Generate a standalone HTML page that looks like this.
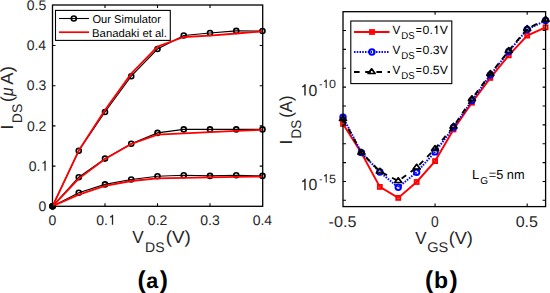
<!DOCTYPE html>
<html><head><meta charset="utf-8"><style>
html,body{margin:0;padding:0;background:#fff;width:550px;height:293px;overflow:hidden;}
svg{display:block;}
</style></head><body>
<svg width="550" height="293" viewBox="0 0 550 293" text-rendering="geometricPrecision" font-family='"Liberation Sans", sans-serif'>
<rect width="550" height="293" fill="#fff"/>
<polyline points="52.50,206.30 78.75,150.75 105.00,112.05 131.25,76.20 157.50,49.00 183.75,35.50 210.00,33.00 236.25,30.90 262.50,31.00" fill="none" stroke="#000" stroke-width="1.1"/>
<circle cx="52.50" cy="206.30" r="2.5" fill="none" stroke="#000" stroke-width="1.6"/>
<circle cx="78.75" cy="150.75" r="2.5" fill="none" stroke="#000" stroke-width="1.6"/>
<circle cx="105.00" cy="112.05" r="2.5" fill="none" stroke="#000" stroke-width="1.6"/>
<circle cx="131.25" cy="76.20" r="2.5" fill="none" stroke="#000" stroke-width="1.6"/>
<circle cx="157.50" cy="49.00" r="2.5" fill="none" stroke="#000" stroke-width="1.6"/>
<circle cx="183.75" cy="35.50" r="2.5" fill="none" stroke="#000" stroke-width="1.6"/>
<circle cx="210.00" cy="33.00" r="2.5" fill="none" stroke="#000" stroke-width="1.6"/>
<circle cx="236.25" cy="30.90" r="2.5" fill="none" stroke="#000" stroke-width="1.6"/>
<circle cx="262.50" cy="31.00" r="2.5" fill="none" stroke="#000" stroke-width="1.6"/>
<polyline points="52.50,206.30 78.75,177.20 105.00,158.60 131.25,143.70 157.50,132.90 183.75,129.40 210.00,129.40 236.25,129.40 262.50,129.40" fill="none" stroke="#000" stroke-width="1.1"/>
<circle cx="52.50" cy="206.30" r="2.5" fill="none" stroke="#000" stroke-width="1.6"/>
<circle cx="78.75" cy="177.20" r="2.5" fill="none" stroke="#000" stroke-width="1.6"/>
<circle cx="105.00" cy="158.60" r="2.5" fill="none" stroke="#000" stroke-width="1.6"/>
<circle cx="131.25" cy="143.70" r="2.5" fill="none" stroke="#000" stroke-width="1.6"/>
<circle cx="157.50" cy="132.90" r="2.5" fill="none" stroke="#000" stroke-width="1.6"/>
<circle cx="183.75" cy="129.40" r="2.5" fill="none" stroke="#000" stroke-width="1.6"/>
<circle cx="210.00" cy="129.40" r="2.5" fill="none" stroke="#000" stroke-width="1.6"/>
<circle cx="236.25" cy="129.40" r="2.5" fill="none" stroke="#000" stroke-width="1.6"/>
<circle cx="262.50" cy="129.40" r="2.5" fill="none" stroke="#000" stroke-width="1.6"/>
<polyline points="52.50,206.30 78.75,192.70 105.00,184.40 131.25,179.50 157.50,176.30 183.75,175.30 210.00,175.90 236.25,175.30 262.50,175.90" fill="none" stroke="#000" stroke-width="1.1"/>
<circle cx="52.50" cy="206.30" r="2.5" fill="none" stroke="#000" stroke-width="1.6"/>
<circle cx="78.75" cy="192.70" r="2.5" fill="none" stroke="#000" stroke-width="1.6"/>
<circle cx="105.00" cy="184.40" r="2.5" fill="none" stroke="#000" stroke-width="1.6"/>
<circle cx="131.25" cy="179.50" r="2.5" fill="none" stroke="#000" stroke-width="1.6"/>
<circle cx="157.50" cy="176.30" r="2.5" fill="none" stroke="#000" stroke-width="1.6"/>
<circle cx="183.75" cy="175.30" r="2.5" fill="none" stroke="#000" stroke-width="1.6"/>
<circle cx="210.00" cy="175.90" r="2.5" fill="none" stroke="#000" stroke-width="1.6"/>
<circle cx="236.25" cy="175.30" r="2.5" fill="none" stroke="#000" stroke-width="1.6"/>
<circle cx="262.50" cy="175.90" r="2.5" fill="none" stroke="#000" stroke-width="1.6"/>
<circle cx="52.9" cy="206.3" r="3.1" fill="#000"/>
<polyline points="52.50,206.30 78.75,150.60 105.00,110.00 131.25,73.60 157.50,46.60 183.75,37.00 210.00,35.60 236.25,33.50 262.50,31.30" fill="none" stroke="#f00" stroke-width="1.8" stroke-linejoin="round"/>
<polyline points="52.50,206.30 78.75,178.60 105.00,159.00 131.25,144.00 157.50,134.60 183.75,133.30 210.00,132.10 236.25,130.90 262.50,129.90" fill="none" stroke="#f00" stroke-width="1.8" stroke-linejoin="round"/>
<polyline points="52.50,206.30 78.75,194.60 105.00,185.90 131.25,181.00 157.50,178.30 183.75,177.80 210.00,177.30 236.25,176.90 262.50,176.60" fill="none" stroke="#f00" stroke-width="1.8" stroke-linejoin="round"/>
<rect x="52.5" y="5.0" width="210.20" height="201.30" fill="none" stroke="#000" stroke-width="1.3"/>
<path d="M105.00 206.3v-3M105.00 5.0v3" stroke="#000" stroke-width="1.1"/>
<path d="M157.50 206.3v-3M157.50 5.0v3" stroke="#000" stroke-width="1.1"/>
<path d="M210.00 206.3v-3M210.00 5.0v3" stroke="#000" stroke-width="1.1"/>
<path d="M52.5 166.10h3M262.7 166.10h-3" stroke="#000" stroke-width="1.1"/>
<path d="M52.5 125.90h3M262.7 125.90h-3" stroke="#000" stroke-width="1.1"/>
<path d="M52.5 85.70h3M262.7 85.70h-3" stroke="#000" stroke-width="1.1"/>
<path d="M52.5 45.50h3M262.7 45.50h-3" stroke="#000" stroke-width="1.1"/>
<text x="38.46" y="211.00" font-size="14" fill="#262626">0</text>
<text x="28.82" y="170.80" font-size="14" fill="#262626">0.</text><path d="M45.06,170.80L45.06,160.87M45.06,161.39C44.69,162.40 43.99,162.96 42.59,163.17" fill="none" stroke="#262626" stroke-width="1.29" stroke-linecap="butt"/>
<text x="26.94" y="130.60" font-size="14" fill="#262626">0.2</text>
<text x="26.85" y="90.40" font-size="14" fill="#262626">0.3</text>
<text x="26.65" y="50.20" font-size="14" fill="#262626">0.4</text>
<text x="26.83" y="10.00" font-size="14" fill="#262626">0.5</text>
<text x="48.61" y="224.70" font-size="14" fill="#262626">0</text>
<text x="96.28" y="224.70" font-size="14" fill="#262626">0.</text><path d="M112.52,224.70L112.52,214.77M112.52,215.29C112.16,216.30 111.46,216.86 110.06,217.07" fill="none" stroke="#262626" stroke-width="1.29" stroke-linecap="butt"/>
<text x="147.85" y="224.70" font-size="14" fill="#262626">0.2</text>
<text x="200.30" y="224.70" font-size="14" fill="#262626">0.3</text>
<text x="252.70" y="224.70" font-size="14" fill="#262626">0.4</text>
<rect x="55.5" y="10.4" width="114.8" height="30" fill="#fff" stroke="#000" stroke-width="1.1"/>
<path d="M59 18.5H89" stroke="#000" stroke-width="1.1"/>
<circle cx="73.8" cy="18.5" r="2.5" fill="none" stroke="#000" stroke-width="1.6"/>
<path d="M59 32.2H89" stroke="#f00" stroke-width="1.7"/>
<text x="92.47" y="23.10" font-size="11.3" textLength="68.41" lengthAdjust="spacingAndGlyphs" fill="#000">Our Simulator</text>
<text x="92.07" y="36.60" font-size="11.3" textLength="74.86" lengthAdjust="spacingAndGlyphs" fill="#000">Banadaki et al.</text>
<text x="132.22" y="243.20" font-size="17.5" textLength="11.45" lengthAdjust="spacingAndGlyphs" fill="#262626">V</text>
<text x="145.05" y="251.60" font-size="14" textLength="19.50" lengthAdjust="spacingAndGlyphs" fill="#262626">DS</text>
<text x="165.73" y="243.20" font-size="17.5" textLength="25.14" lengthAdjust="spacingAndGlyphs" fill="#262626">(V)</text>
<g transform="translate(0,130.0) rotate(-90)"><text x="0.59" y="12.50" font-size="17.5" fill="#262626">I</text><text x="6.86" y="22.00" font-size="14" textLength="19.39" lengthAdjust="spacingAndGlyphs" fill="#262626">DS</text><text x="28.11" y="12.50" font-size="17.5" fill="#262626">(</text><text x="34.12" y="12.50" font-size="17.5" font-style="italic" textLength="8.42" lengthAdjust="spacingAndGlyphs" fill="#262626">μ</text><text x="45.36" y="12.50" font-size="17.5" textLength="18.48" lengthAdjust="spacingAndGlyphs" fill="#262626">A)</text></g>
<text x="137.42" y="287.80" font-size="24.5" font-weight="bold" fill="#000">(</text>
<text x="146.19" y="287.80" font-size="21.5" font-weight="bold" fill="#000">a</text>
<text x="159.87" y="287.80" font-size="24.5" font-weight="bold" fill="#000">)</text>
<polyline points="343.00,123.90 361.42,153.00 379.84,186.90 398.25,197.90 416.67,182.00 435.09,161.10 453.51,129.50 471.93,102.70 490.35,77.90 508.76,55.30 527.18,35.60 545.60,27.30" fill="none" stroke="#f00" stroke-width="1.9"/>
<rect x="341.00" y="121.90" width="4.0" height="4.0" fill="none" stroke="#f00" stroke-width="1.8"/>
<rect x="359.42" y="151.00" width="4.0" height="4.0" fill="none" stroke="#f00" stroke-width="1.8"/>
<rect x="377.84" y="184.90" width="4.0" height="4.0" fill="none" stroke="#f00" stroke-width="1.8"/>
<rect x="396.25" y="195.90" width="4.0" height="4.0" fill="none" stroke="#f00" stroke-width="1.8"/>
<rect x="414.67" y="180.00" width="4.0" height="4.0" fill="none" stroke="#f00" stroke-width="1.8"/>
<rect x="433.09" y="159.10" width="4.0" height="4.0" fill="none" stroke="#f00" stroke-width="1.8"/>
<rect x="451.51" y="127.50" width="4.0" height="4.0" fill="none" stroke="#f00" stroke-width="1.8"/>
<rect x="469.93" y="100.70" width="4.0" height="4.0" fill="none" stroke="#f00" stroke-width="1.8"/>
<rect x="488.35" y="75.90" width="4.0" height="4.0" fill="none" stroke="#f00" stroke-width="1.8"/>
<rect x="506.76" y="53.30" width="4.0" height="4.0" fill="none" stroke="#f00" stroke-width="1.8"/>
<rect x="525.18" y="33.60" width="4.0" height="4.0" fill="none" stroke="#f00" stroke-width="1.8"/>
<rect x="543.60" y="25.30" width="4.0" height="4.0" fill="none" stroke="#f00" stroke-width="1.8"/>
<polyline points="343.00,117.30 361.42,152.60 379.84,172.00 398.25,187.30 416.67,172.20 435.09,151.90 453.51,127.50 471.93,100.50 490.35,75.00 508.76,51.50 527.18,29.50 545.60,20.50" fill="none" stroke="#00f" stroke-width="2" stroke-dasharray="1.5 1.25"/>
<circle cx="343.00" cy="117.30" r="2.75" fill="none" stroke="#00f" stroke-width="1.9"/>
<circle cx="361.42" cy="152.60" r="2.75" fill="none" stroke="#00f" stroke-width="1.9"/>
<circle cx="379.84" cy="172.00" r="2.75" fill="none" stroke="#00f" stroke-width="1.9"/>
<circle cx="398.25" cy="187.30" r="2.75" fill="none" stroke="#00f" stroke-width="1.9"/>
<circle cx="416.67" cy="172.20" r="2.75" fill="none" stroke="#00f" stroke-width="1.9"/>
<circle cx="435.09" cy="151.90" r="2.75" fill="none" stroke="#00f" stroke-width="1.9"/>
<circle cx="453.51" cy="127.50" r="2.75" fill="none" stroke="#00f" stroke-width="1.9"/>
<circle cx="471.93" cy="100.50" r="2.75" fill="none" stroke="#00f" stroke-width="1.9"/>
<circle cx="490.35" cy="75.00" r="2.75" fill="none" stroke="#00f" stroke-width="1.9"/>
<circle cx="508.76" cy="51.50" r="2.75" fill="none" stroke="#00f" stroke-width="1.9"/>
<circle cx="527.18" cy="29.50" r="2.75" fill="none" stroke="#00f" stroke-width="1.9"/>
<circle cx="545.60" cy="20.50" r="2.75" fill="none" stroke="#00f" stroke-width="1.9"/>
<polyline points="343.00,119.00 361.42,152.60 379.84,171.50 398.25,181.00 416.67,167.50 435.09,148.80 453.51,126.50 471.93,99.00 490.35,73.80 508.76,50.80 527.18,28.80 545.60,19.70" fill="none" stroke="#000" stroke-width="1.9" stroke-dasharray="5.6 5.6"/>
<polygon points="343.00,115.80 346.50,120.50 339.50,120.50" fill="none" stroke="#000" stroke-width="1.7" stroke-linejoin="round"/>
<polygon points="361.42,149.40 364.92,154.10 357.92,154.10" fill="none" stroke="#000" stroke-width="1.7" stroke-linejoin="round"/>
<polygon points="379.84,168.30 383.34,173.00 376.34,173.00" fill="none" stroke="#000" stroke-width="1.7" stroke-linejoin="round"/>
<polygon points="398.25,177.80 401.75,182.50 394.75,182.50" fill="none" stroke="#000" stroke-width="1.7" stroke-linejoin="round"/>
<polygon points="416.67,164.30 420.17,169.00 413.17,169.00" fill="none" stroke="#000" stroke-width="1.7" stroke-linejoin="round"/>
<polygon points="435.09,145.60 438.59,150.30 431.59,150.30" fill="none" stroke="#000" stroke-width="1.7" stroke-linejoin="round"/>
<polygon points="453.51,123.30 457.01,128.00 450.01,128.00" fill="none" stroke="#000" stroke-width="1.7" stroke-linejoin="round"/>
<polygon points="471.93,95.80 475.43,100.50 468.43,100.50" fill="none" stroke="#000" stroke-width="1.7" stroke-linejoin="round"/>
<polygon points="490.35,70.60 493.85,75.30 486.85,75.30" fill="none" stroke="#000" stroke-width="1.7" stroke-linejoin="round"/>
<polygon points="508.76,47.60 512.26,52.30 505.26,52.30" fill="none" stroke="#000" stroke-width="1.7" stroke-linejoin="round"/>
<polygon points="527.18,25.60 530.68,30.30 523.68,30.30" fill="none" stroke="#000" stroke-width="1.7" stroke-linejoin="round"/>
<polygon points="545.60,16.50 549.10,21.20 542.10,21.20" fill="none" stroke="#000" stroke-width="1.7" stroke-linejoin="round"/>
<rect x="343.0" y="11.7" width="202.60" height="194.90" fill="none" stroke="#000" stroke-width="1.3"/>
<path d="M435.09 206.6v-3M435.09 11.7v3" stroke="#000" stroke-width="1.1"/>
<path d="M527.18 206.6v-3M527.18 11.7v3" stroke="#000" stroke-width="1.1"/>
<path d="M343.0 200.30h3M545.6 200.30h-3" stroke="#000" stroke-width="1.1"/>
<path d="M343.0 181.44h3M545.6 181.44h-3" stroke="#000" stroke-width="1.1"/>
<path d="M343.0 162.58h3M545.6 162.58h-3" stroke="#000" stroke-width="1.1"/>
<path d="M343.0 143.72h3M545.6 143.72h-3" stroke="#000" stroke-width="1.1"/>
<path d="M343.0 124.86h3M545.6 124.86h-3" stroke="#000" stroke-width="1.1"/>
<path d="M343.0 106.00h3M545.6 106.00h-3" stroke="#000" stroke-width="1.1"/>
<path d="M343.0 87.14h3M545.6 87.14h-3" stroke="#000" stroke-width="1.1"/>
<path d="M343.0 68.28h3M545.6 68.28h-3" stroke="#000" stroke-width="1.1"/>
<path d="M343.0 49.42h3M545.6 49.42h-3" stroke="#000" stroke-width="1.1"/>
<path d="M343.0 30.56h3M545.6 30.56h-3" stroke="#000" stroke-width="1.1"/>
<text x="328.58" y="227.00" font-size="15.5" textLength="27.79" lengthAdjust="spacingAndGlyphs" fill="#262626">-0.5</text>
<text x="430.96" y="227.00" font-size="15.5" textLength="7.68" lengthAdjust="spacingAndGlyphs" fill="#262626">0</text>
<text x="515.67" y="227.00" font-size="15.5" textLength="22.30" lengthAdjust="spacingAndGlyphs" fill="#262626">0.5</text>
<path d="M304.98,95.60L304.98,84.26M304.98,84.85C304.57,86.00 303.78,86.64 302.20,86.88" fill="none" stroke="#262626" stroke-width="1.46" stroke-linecap="butt"/><text x="308.62" y="95.60" font-size="16" textLength="8.79" lengthAdjust="spacingAndGlyphs" fill="#262626">0</text>
<text x="319.30" y="88.00" font-size="12" textLength="3.00" lengthAdjust="spacingAndGlyphs" fill="#262626">-</text>
<path d="M326.21,88.00L326.21,79.49M326.21,79.94C325.88,80.80 325.26,81.28 324.00,81.46" fill="none" stroke="#262626" stroke-width="1.10" stroke-linecap="butt"/><text x="329.10" y="88.00" font-size="12" textLength="6.99" lengthAdjust="spacingAndGlyphs" fill="#262626">0</text>
<path d="M304.98,190.20L304.98,178.86M304.98,179.45C304.57,180.60 303.78,181.24 302.20,181.48" fill="none" stroke="#262626" stroke-width="1.46" stroke-linecap="butt"/><text x="308.62" y="190.20" font-size="16" textLength="8.79" lengthAdjust="spacingAndGlyphs" fill="#262626">0</text>
<text x="319.30" y="182.60" font-size="12" textLength="3.00" lengthAdjust="spacingAndGlyphs" fill="#262626">-</text>
<path d="M326.22,182.60L326.22,174.09M326.22,174.54C325.89,175.40 325.26,175.88 324.00,176.06" fill="none" stroke="#262626" stroke-width="1.10" stroke-linecap="butt"/><text x="329.12" y="182.60" font-size="12" textLength="7.01" lengthAdjust="spacingAndGlyphs" fill="#262626">5</text>
<rect x="350.8" y="21" width="101" height="62.6" fill="#fff" stroke="#000" stroke-width="1.1"/>
<path d="M354 32.0H389.5" stroke="#f00" stroke-width="1.9"/>
<rect x="370.00" y="30.00" width="4.0" height="4.0" fill="none" stroke="#f00" stroke-width="1.8"/>
<path d="M354 52.0H389.5" stroke="#00f" stroke-width="2" stroke-dasharray="1.5 1.25"/>
<circle cx="371.90" cy="52.00" r="2.75" fill="none" stroke="#00f" stroke-width="1.9"/>
<path d="M354 72.0H390" stroke="#000" stroke-width="1.9" stroke-dasharray="5.6 5.6"/>
<polygon points="371.60,68.80 375.10,73.50 368.10,73.50" fill="none" stroke="#000" stroke-width="1.7" stroke-linejoin="round"/>
<text x="392.45" y="34.00" font-size="12" textLength="7.80" lengthAdjust="spacingAndGlyphs" fill="#000">V</text>
<text x="401.21" y="39.00" font-size="10" textLength="13.44" lengthAdjust="spacingAndGlyphs" fill="#000">DS</text>
<text x="415.70" y="34.00" font-size="12" textLength="6.01" lengthAdjust="spacingAndGlyphs" fill="#000">=</text>
<text x="422.62" y="34.00" font-size="12" textLength="10.23" lengthAdjust="spacingAndGlyphs" fill="#000">0.</text><path d="M436.85,34.00L436.85,25.49M436.85,25.94C436.53,26.80 435.92,27.28 434.69,27.46" fill="none" stroke="#000" stroke-width="1.10" stroke-linecap="butt"/><text x="439.67" y="34.00" font-size="12" textLength="8.18" lengthAdjust="spacingAndGlyphs" fill="#000">V</text>
<text x="392.45" y="54.00" font-size="12" textLength="7.80" lengthAdjust="spacingAndGlyphs" fill="#000">V</text>
<text x="401.21" y="59.00" font-size="10" textLength="13.44" lengthAdjust="spacingAndGlyphs" fill="#000">DS</text>
<text x="415.70" y="54.00" font-size="12" textLength="6.01" lengthAdjust="spacingAndGlyphs" fill="#000">=</text>
<text x="422.62" y="54.00" font-size="12" textLength="25.23" lengthAdjust="spacingAndGlyphs" fill="#000">0.3V</text>
<text x="392.45" y="74.00" font-size="12" textLength="7.80" lengthAdjust="spacingAndGlyphs" fill="#000">V</text>
<text x="401.21" y="79.00" font-size="10" textLength="13.44" lengthAdjust="spacingAndGlyphs" fill="#000">DS</text>
<text x="415.70" y="74.00" font-size="12" textLength="6.01" lengthAdjust="spacingAndGlyphs" fill="#000">=</text>
<text x="422.62" y="74.00" font-size="12" textLength="25.23" lengthAdjust="spacingAndGlyphs" fill="#000">0.5V</text>
<text x="472.07" y="179.00" font-size="13" fill="#000">L</text>
<text x="480.13" y="184.40" font-size="10" fill="#000">G</text>
<text x="488.68" y="179.00" font-size="13" textLength="35.87" lengthAdjust="spacingAndGlyphs" fill="#000">=5 nm</text>
<text x="415.23" y="243.90" font-size="17.5" textLength="11.25" lengthAdjust="spacingAndGlyphs" fill="#262626">V</text>
<text x="427.17" y="252.30" font-size="14" textLength="21.00" lengthAdjust="spacingAndGlyphs" fill="#262626">GS</text>
<text x="448.67" y="243.90" font-size="17.5" textLength="24.26" lengthAdjust="spacingAndGlyphs" fill="#262626">(V)</text>
<g transform="translate(0,145.0) rotate(-90)"><text x="0.59" y="292.30" font-size="17.5" fill="#262626">I</text><text x="6.60" y="301.40" font-size="14" textLength="18.61" lengthAdjust="spacingAndGlyphs" fill="#262626">DS</text><text x="27.26" y="292.30" font-size="17.5" textLength="22.27" lengthAdjust="spacingAndGlyphs" fill="#262626">(A)</text></g>
<text x="424.92" y="287.80" font-size="24.5" font-weight="bold" fill="#000">(</text>
<text x="434.09" y="287.80" font-size="23" font-weight="bold" fill="#000">b</text>
<text x="449.42" y="287.80" font-size="24.5" font-weight="bold" fill="#000">)</text>
</svg>
</body></html>
